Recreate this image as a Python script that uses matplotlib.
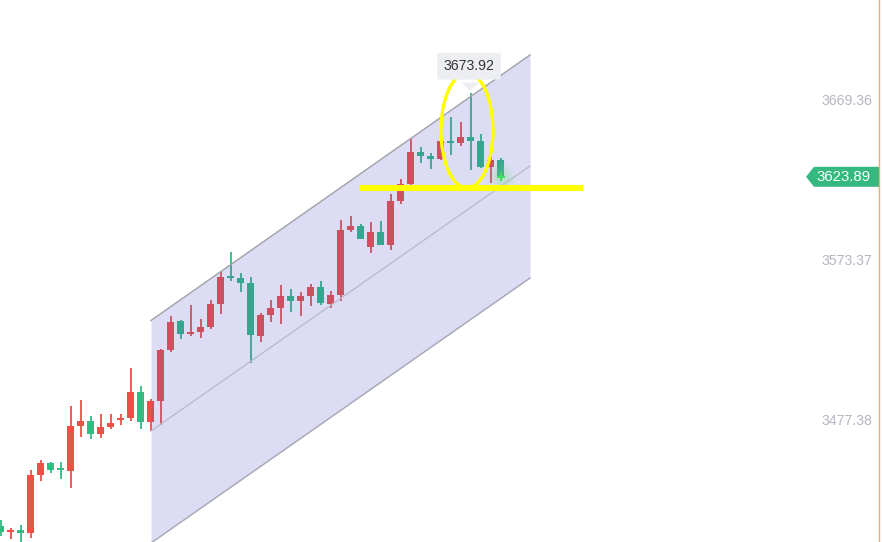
import matplotlib
matplotlib.use("Agg")
import matplotlib.pyplot as plt
from matplotlib.patches import Ellipse, Polygon
from matplotlib.transforms import blended_transform_factory
import numpy as np

# ---- data ----
opens = [3414.36, 3410.94, 3411.96, 3410.16, 3444.96, 3452.16, 3448.56, 3447.54, 3474.36, 3477.36,
         3469.74, 3473.94, 3478.14, 3479.34, 3494.76, 3476.94, 3489.54, 3520.14, 3537.54, 3529.74,
         3530.94, 3533.94, 3547.74, 3563.94, 3563.16, 3560.16, 3528.54, 3540.96, 3545.34, 3552.36,
         3549.54, 3552.54, 3557.76, 3547.74, 3553.14, 3592.14, 3594.36, 3581.94, 3590.76, 3583.14,
         3609.54, 3619.74, 3638.76, 3636.36, 3634.74, 3645.36, 3644.34, 3647.76, 3645.36, 3629.94,
         3633.96]
highs = [3417.96, 3413.16, 3414.96, 3447.96, 3453.96, 3452.76, 3452.76, 3486.36, 3489.96, 3480.36,
         3481.74, 3481.74, 3481.74, 3509.34, 3498.36, 3490.56, 3520.56, 3540.36, 3537.96, 3546.96,
         3538.56, 3549.96, 3567.36, 3578.76, 3566.16, 3563.76, 3542.34, 3549.96, 3558.96, 3556.56,
         3554.76, 3559.74, 3561.36, 3555.36, 3597.96, 3600.36, 3595.56, 3596.76, 3597.36, 3613.56,
         3622.56, 3646.56, 3641.76, 3638.16, 3654.96, 3659.76, 3656.76, 3673.92, 3649.56, 3641.16,
         3635.16]
lows = [3408.36, 3406.74, 3404.94, 3407.34, 3441.54, 3446.34, 3442.56, 3437.34, 3467.94, 3466.74,
        3467.34, 3472.74, 3475.14, 3477.54, 3472.74, 3471.36, 3475.14, 3518.94, 3526.74, 3528.54,
        3527.34, 3532.56, 3541.74, 3561.54, 3554.94, 3512.00, 3524.94, 3536.94, 3535.74, 3542.94,
        3540.54, 3546.54, 3547.14, 3545.34, 3549.54, 3590.94, 3586.38, 3578.34, 3583.14, 3580.14,
        3607.74, 3619.14, 3632.34, 3628.74, 3634.14, 3637.14, 3642.54, 3628.14, 3629.34, 3620.34,
        3622.74]
closes = [3410.76, 3411.96, 3410.16, 3444.96, 3452.16, 3448.14, 3448.14, 3474.36, 3477.36, 3469.74,
          3473.76, 3476.16, 3479.16, 3494.76, 3476.94, 3489.36, 3519.96, 3536.76, 3529.74, 3530.76,
          3533.76, 3547.56, 3563.76, 3563.34, 3560.34, 3529.14, 3540.96, 3545.16, 3552.36, 3549.54,
          3552.36, 3557.76, 3548.34, 3552.96, 3591.96, 3594.36, 3586.74, 3590.76, 3583.14, 3609.36,
          3619.38, 3638.76, 3636.54, 3634.74, 3645.36, 3644.34, 3647.76, 3645.54, 3629.94, 3633.96,
          3623.89]

axis_ticks = [3477.38, 3573.37, 3669.36]
axis_tick_labels = ["3477.38", "3573.37", "3669.36"]
last_price = 3623.89
last_price_label = "3623.89"
peak_label = "3673.92"

# channel (index, price)
channel_x = [15.05, 52.95]
channel_upper = [3537.66, 3696.96]
channel_mid = [3471.36, 3630.36]
channel_lower = [3404.16, 3563.16]

support_x = [35.95, 58.25]
support_price = 3617.16

# ---- figure ----
W, H, DPI = 882, 542, 100
fig = plt.figure(figsize=(W / DPI, H / DPI), dpi=DPI)
ax = fig.add_axes([0, 0, 1, 1])
ax.set_xlim(-0.05, -0.05 + W / 10.0)
ax.set_ylim(3729.96 - 0.6 * H, 3729.96)
ax.axis("off")
fig.patch.set_facecolor("white")

RED = "#ea5248"
GREEN = "#33bb82"

x = np.arange(len(opens))
o = np.array(opens); h = np.array(highs); l = np.array(lows); c = np.array(closes)
up = c >= o
cols = np.where(up, RED, GREEN)
ax.vlines(x, l, h, colors=cols, linewidth=1.3, zorder=2)
bottoms = np.minimum(o, c)
heights = np.maximum(np.abs(c - o), 0.8)
ax.bar(x, heights, bottom=bottoms, width=0.7, color=cols, linewidth=0, zorder=2)

# channel fill on top of candles
cx = np.array(channel_x)
ax.fill_between(cx, channel_lower, channel_upper, color="#5050c8", alpha=0.2,
                linewidth=0, zorder=3)
ax.plot(cx, channel_upper, color="#a3a3ad", linewidth=1.1, zorder=4)
ax.plot(cx, channel_mid, color="#bcbcc8", linewidth=1.0, zorder=4)
ax.plot(cx, channel_lower, color="#a8a8b4", linewidth=1.0, zorder=4)

# yellow support line & ellipse
ax.plot(support_x, [support_price, support_price], color="#ffff00", linewidth=4.4,
        solid_capstyle="butt", zorder=6)
ax.add_patch(Ellipse((46.65, 3651.66), 5.2, 69.0, fill=False, edgecolor="#ffff00",
                     linewidth=2.4, zorder=6))

# glow on last candle
lx = len(opens) - 1
for s, a in [(420, 0.06), (260, 0.08), (130, 0.12)]:
    ax.scatter([lx], [last_price], s=s, color="#6fe07a", alpha=a, linewidths=0, zorder=5)
ax.scatter([lx], [last_price], s=30, marker="+", color="#3ee05a", linewidths=1.5, zorder=5)

# tooltip at peak
pk = int(np.argmax(h))
tip_y = h[pk] + 1.5
ax.add_patch(Polygon([[pk - 0.9, tip_y + 5.0], [pk + 0.9, tip_y + 5.0], [pk - 0.1, tip_y]],
                     closed=True, facecolor="#eceef2", edgecolor="none", zorder=7))
ax.text(pk - 0.15, tip_y + 14.8, peak_label, ha="center", va="center", fontsize=10.2,
        family="Liberation Sans", color="#333333", zorder=8,
        bbox=dict(boxstyle="round,pad=0.45,rounding_size=0.15", facecolor="#eceef2",
                  edgecolor="none"))

# right axis labels
bt = blended_transform_factory(ax.transAxes, ax.transData)
for v, lab in zip(axis_ticks, axis_tick_labels):
    ax.text(872 / W, v, lab, transform=bt, ha="right", va="center", fontsize=10.2,
            family="Liberation Sans", color="#b4b6c2", zorder=8)

# last price tag
x0, x1, x2 = 806 / W, 814 / W, 880 / W
ax.add_patch(Polygon([[x0, last_price], [x1, last_price + 6], [x2, last_price + 6],
                      [x2, last_price - 6], [x1, last_price - 6]], closed=True,
                     transform=bt, facecolor="#35b981", edgecolor="none", zorder=8))
ax.text(843.5 / W, last_price, last_price_label, transform=bt, ha="center", va="center",
        fontsize=10.8, family="Liberation Sans", color="white", zorder=9)

# orange right edge line
ax.axvline(-0.05 + 879.3 / 10.0, color="#f4a878", linewidth=1.0, zorder=8)

fig.savefig("out.png", dpi=DPI)
